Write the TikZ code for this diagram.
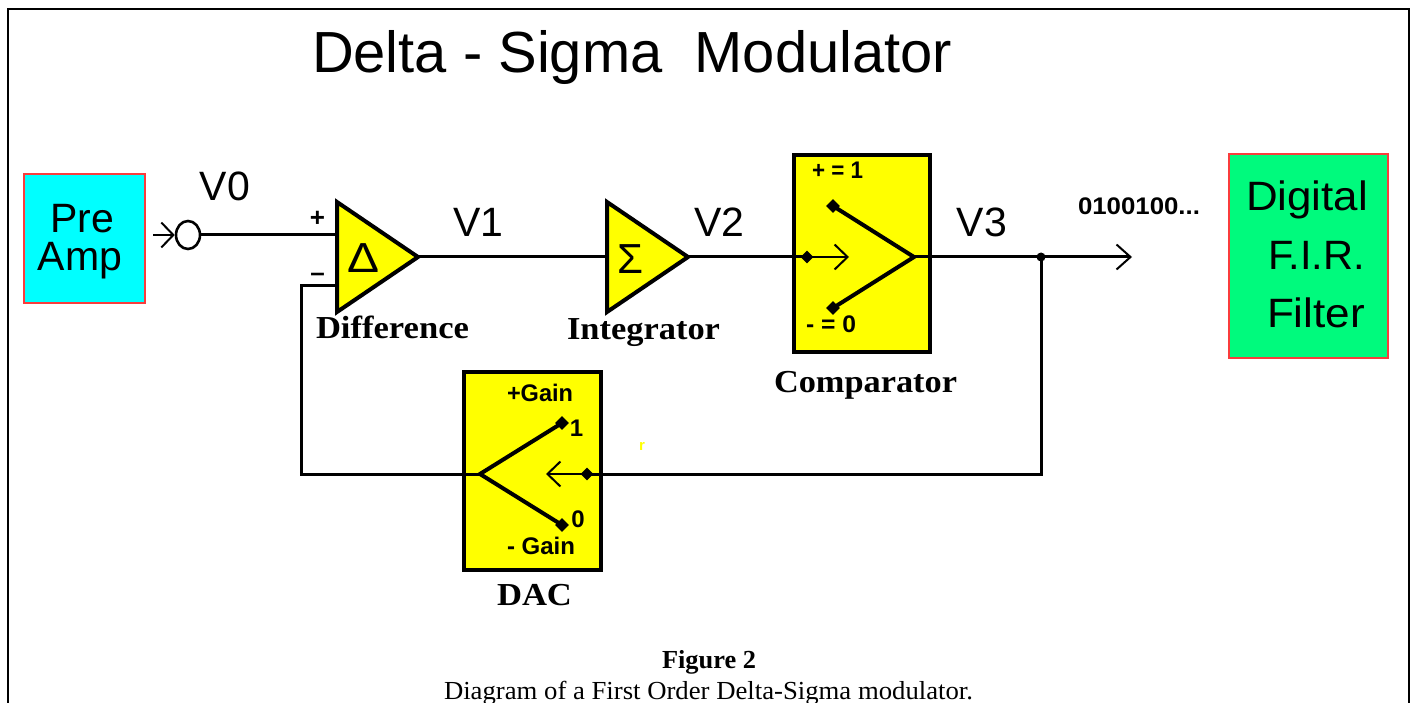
\documentclass[tikz,border=0pt]{standalone}
\usepackage{fontspec}
\usepackage{graphicx}
\setmainfont{Liberation Serif}
\setsansfont{Liberation Sans}
\usetikzlibrary{arrows.meta,shapes.geometric}
\definecolor{amp}{RGB}{0,255,255}
\definecolor{fir}{RGB}{0,250,125}
\definecolor{edge}{RGB}{250,60,60}
\definecolor{tone}{RGB}{255,255,0}
\newcommand\fs[1]{\fontsize{#1}{#1}\selectfont}
\newcommand\fw[2]{\resizebox{#1pt}{\height}{#2}}
\tikzset{
  txt/.style={inner sep=0pt,outer sep=0pt,anchor=base,font=\sffamily\fs{41}},
  boldlab/.style={inner sep=0pt,outer sep=0pt,anchor=base,font=\rmfamily\bfseries\fs{32}},
  small/.style={inner sep=0pt,outer sep=0pt,anchor=base,font=\sffamily\bfseries\fs{24}},
  tonebox/.style={draw=black,fill=tone,line width=3.5pt,inner sep=0pt},
  amptri/.style={draw=black,fill=tone,line width=4pt,line join=miter},
  wire/.style={line width=3pt},
  thin wire/.style={line width=2pt},
  fork/.style={line width=4pt,line cap=round},
  pin/.style={diamond,fill=black,inner sep=0pt,minimum size=#1},
  barb/.style={-{Straight Barb[length=#1,width=25pt,line width=2pt]}},
}
\begin{document}
\begin{tikzpicture}[x=1pt,y=-1pt]
\useasboundingbox (0,0) rectangle (1414,703);
\fill[white] (0,0) rectangle (1414,703);
\coordinate (fbl) at (8,703); \coordinate (ftl) at (8,9);
\coordinate (ftr) at (1409,9); \coordinate (fbr) at (1409,703);
\draw[line width=2.4pt] (fbl) -- (ftl) -- (ftr) -- (fbr);

% title
\node[txt,anchor=base west,font=\sffamily\fs{58}] (title) at (312,73) {\fw{640}{Delta - Sigma\ \ Modulator}};

% source and sink boxes
\node[draw=edge,fill=amp,line width=1.6pt,inner sep=0pt,minimum width=121pt,minimum height=129pt] (preamp) at (84.5,238.5) {};
\node[txt] (pre) at (82.5,233) {Pre};
\node[txt] (ampl) at (80,271) {Amp};
\node[draw=edge,fill=fir,line width=1.6pt,inner sep=0pt,minimum width=159pt,minimum height=204pt] (fir) at (1308.5,256) {};
\node[txt] (fir1) at (1307,211) {\fw{122}{Digital}};
\node[txt] (fir2) at (1316.5,270) {\fw{97}{F.I.R.}};
\node[txt] (fir3) at (1316,328) {\fw{98}{Filter}};

% comparator and DAC boxes
\node[tonebox,minimum width=136pt,minimum height=197pt] (cmp) at (862,253.5) {};
\node[tonebox,minimum width=137pt,minimum height=198pt] (dac) at (532.5,471) {};

% coordinates on the signal path
\coordinate (din) at (337,235);
\coordinate (dfb) at (337,286);
\coordinate (dtop) at (337,202);
\coordinate (dbot) at (337,312);
\coordinate (dtip) at (418,257);
\coordinate (itop) at (607,202);
\coordinate (ibot) at (607,312);
\coordinate (iin) at (607,257);
\coordinate (itip) at (688,257);
\coordinate (cfork) at (914,257);
\coordinate (cend) at (1132,257);
\coordinate (fbcorner) at (1041,474);
\coordinate (lcorner) at (301,474);
\coordinate (lup) at (301,286);
\coordinate (dfork) at (480,474);
\coordinate (sarrow) at (153,235);
\coordinate (carrow) at (849,257);
\coordinate (darrow) at (546,474);

\node[ellipse,draw=black,line width=2.6pt,fill=white,inner sep=0pt,minimum width=24pt,minimum height=28pt] (port) at (188,235) {};
\node[circle,fill=black,inner sep=0pt,minimum size=9pt] (tap) at (1041,257) {};
\node[pin=13pt] (cin) at (807,257) {};
\node[pin=13pt] (dinp) at (587,474) {};
\node[pin=14pt] (chi) at (833,206) {};
\node[pin=14pt] (clo) at (833,308) {};
\node[pin=14pt] (dhi) at (562,423) {};
\node[pin=14pt] (dlo) at (562,525) {};

% wires
\draw[wire] (port.east) -- (din);
\draw[wire] (dfb) -- (lup) -- (lcorner) -- (dfork);
\draw[wire] (dtip) -- (iin);
\draw[wire] (itip) -- (cin.center);
\draw[wire,barb=14pt] (cfork) -- (cend);
\draw[wire] (tap.center) -- (fbcorner) -- (dinp.center);
\draw[thin wire,barb=12pt] (sarrow) -- (port.west);
\draw[thin wire,barb=13pt] (cin.center) -- (carrow);
\draw[thin wire,barb=13pt] (dinp.center) -- (darrow);
\draw[fork] (chi.center) -- (cfork) -- (clo.center);
\draw[fork] (dhi.center) -- (dfork) -- (dlo.center);

% amplifier triangles
\draw[amptri] (dtop) -- (dtip) -- (dbot) -- cycle;
\draw[amptri] (itop) -- (itip) -- (ibot) -- cycle;
\node[txt,font=\sffamily\fs{42}] (dlt) at (363,273) {\fw{32}{Δ}};
\node[txt,font=\sffamily\fs{42}] (sgm) at (630.5,274) {\fw{26}{Σ}};

% labels
\node[txt] (v0) at (225,201) {V0};
\node[txt] (v1) at (478.5,237) {V1};
\node[txt] (v2) at (719.5,237) {V2};
\node[txt] (v3) at (982,237) {V3};
\node[small,font=\sffamily\bfseries\fs{26}] (plus) at (317.5,227) {+};
\node[small,font=\sffamily\bfseries\fs{26}] (minus) at (317.5,282) {–};
\node[boldlab] (ldiff) at (392.5,339) {\fw{153}{Difference}};
\node[boldlab] (lint) at (643.5,340) {\fw{153}{Integrator}};
\node[boldlab] (lcmp) at (865.5,392) {\fw{183}{Comparator}};
\node[boldlab] (ldac) at (534.5,605) {\fw{75}{DAC}};
\node[small] (cp) at (837.5,179) {\fw{51}{+ = 1}};
\node[small] (cm) at (831,333) {\fw{50}{- = 0}};
\node[small] (gp) at (540,401) {\fw{66}{+Gain}};
\node[small] (gm) at (541,554) {\fw{68}{- Gain}};
\node[small] (d1) at (576.5,436) {1};
\node[small] (d0) at (578,527) {0};
\node[small,font=\sffamily\bfseries\fs{24}] (bits) at (1139,215) {\fw{122}{0100100...}};
\node[inner sep=0pt,anchor=base,text=tone,font=\sffamily\bfseries\fs{15}] (speck) at (642,450) {r};

% caption
\node[inner sep=0pt,anchor=base,font=\rmfamily\bfseries\fs{26}] (figno) at (709,668) {\fw{94}{Figure 2}};
\node[inner sep=0pt,anchor=base,font=\rmfamily\fs{26}] (figcap) at (708.5,699) {\fw{529}{Diagram of a First Order Delta-Sigma modulator.}};
\end{tikzpicture}
\end{document}
